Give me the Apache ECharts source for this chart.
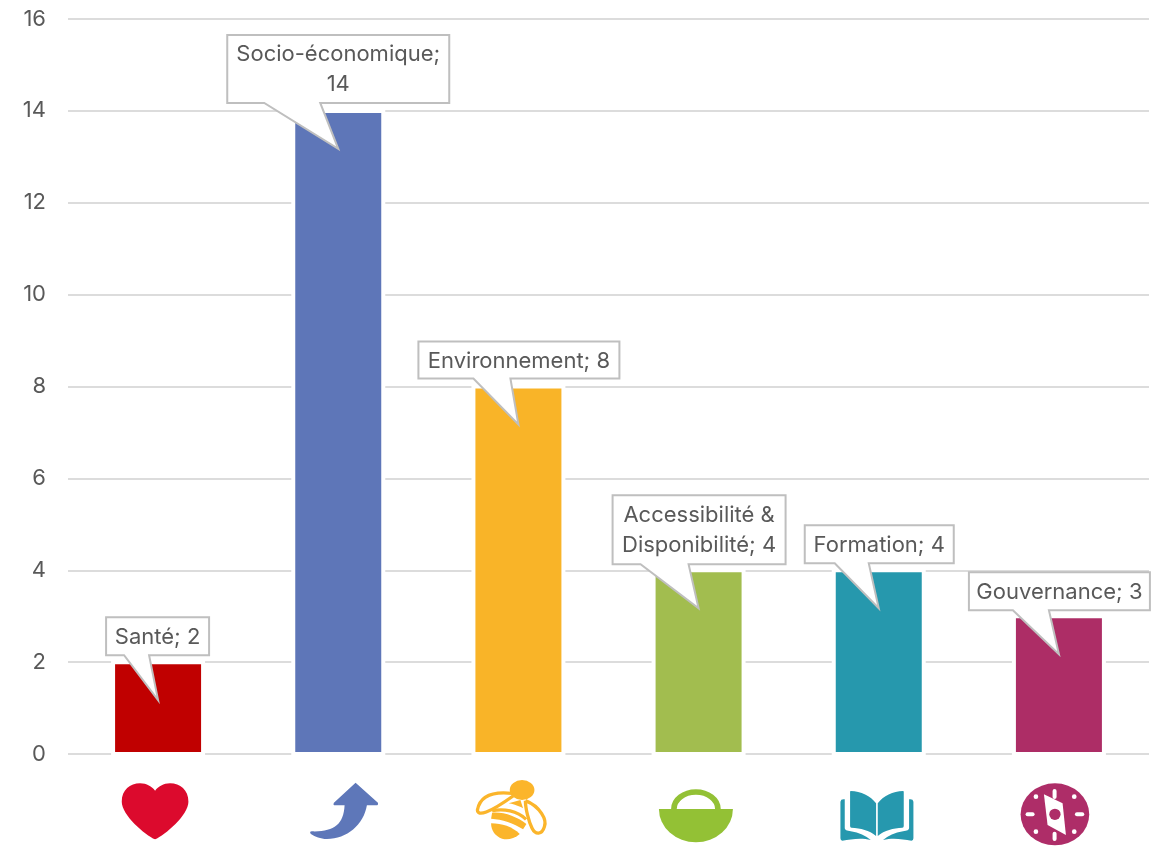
<!DOCTYPE html>
<html><head><meta charset="utf-8">
<style>html,body{margin:0;padding:0;background:#fff}#c{width:1168px;height:848px}</style>
<script src="https://cdn.jsdelivr.net/npm/echarts@6/dist/echarts.min.js"></script>
</head><body><div id="c"></div>
<script>
const categories = ['Santé','Socio-économique','Environnement','Accessibilité & Disponibilité','Formation','Gouvernance'];
const values = [2,14,8,4,4,3];
const labelTexts = ['Santé; 2','Socio-économique;\n14','Environnement; 8','Accessibilité &\nDisponibilité; 4','Formation; 4','Gouvernance; 3'];
const yTicks = {min:0,max:16,interval:2};

const palette = ['#C00000','#5E76B8','#F9B428','#A2BD4F','#2698AD','#AD2D66'];
// callout geometry, relative to the top centre of each bar: [left,right,top,bottom,baseLeft,baseRight]
const calloutBoxes = [
  [-52,51,-45,-7,-34,-9],[-111,111,-76,-8,-74,-18],[-100,101,-45,-8,-45,-8],
  [-86,87,-75,-6,-58,-10],[-74,75,-45,-7,-44,-10],[-90,91,-44,-6,-46,-10]
];
const tipDrop = 38;
const FONT = 'Inter, "Noto Sans", sans-serif';

const wrap = (inner, dx) => 'data:image/svg+xml;utf8,' + encodeURIComponent(
  `<svg xmlns="http://www.w3.org/2000/svg" width="270" height="264" viewBox="-135 0 270 264"><g transform="translate(${dx} 0)">${inner}</g></svg>`);
const icons = [
 wrap(`<path fill="#DC0A2D" d="M0 238C-30 225-100 165-100 125C-100 90-75 70-45 70C-25 70-10 80 0 92C10 80 25 70 45 70C75 70 100 90 100 125C100 165 30 225 0 238Z"/>`,-9),
 wrap(`<path fill="#5E77B9" d="M826 68L893 128Q895 136 888 136L860 136C850 195 800 237 740 237C720 237 705 230 692 222Q686 215 695 214C760 216 790 195 793 136L765 136Q757 136 761 128Z"/>`,-774),
 wrap(`<g fill="#FBB52B"><ellipse cx="1325" cy="90" rx="37" ry="30"/><path d="M1285 130L1320 120L1328 145C1310 135 1295 132 1285 130Z"/><path d="M1235 158C1270 155 1310 170 1338 192L1328 208C1300 190 1265 178 1232 176Z"/><path d="M1232 190C1265 190 1295 200 1318 222C1300 238 1280 240 1265 236C1245 230 1232 212 1232 190Z"/></g><g fill="none" stroke="#FBB52B" stroke-width="10"><path d="M1295 100C1250 95 1200 100 1191 150C1192 170 1225 160 1298 108"/><path d="M1335 122C1380 140 1400 180 1392 200C1385 225 1365 225 1355 205C1345 185 1335 145 1335 122"/><path d="M1235 152C1270 145 1310 152 1337 178"/></g>`,-1314),
 wrap(`<path fill="#93C135" d="M115 147L337 147A111 100 0 0 1 115 147Z"/><path fill="none" stroke="#93C135" stroke-width="17" d="M160 147A66 51 0 0 1 292 147"/>`,-234),
 wrap(`<g fill="#2698AE" id="h"><path d="M690 93C720 93 750 108 766 130L766 228C745 210 720 205 692 203Q688 203 688 198L688 96Q688 93 690 93Z"/><path d="M668 118L672 118L672 205Q672 212 690 214C715 218 735 228 750 240C720 232 690 238 665 242Q659 242 659 235L659 125Q660 118 668 118Z"/></g><use href="#h" transform="translate(1537 0) scale(-1 1)"/>`,-774),
 wrap(`<ellipse cx="1305" cy="163" rx="103" ry="93" fill="#AE2D68"/><g fill="#fff"><rect x="1298" y="87" width="12" height="30" rx="6"/><rect x="1298" y="215" width="12" height="28" rx="6"/><rect x="1217" y="157" width="27" height="12" rx="6"/><rect x="1365" y="157" width="28" height="12" rx="6"/><circle cx="1248" cy="110" r="7"/><circle cx="1363" cy="110" r="7"/><circle cx="1248" cy="215" r="7"/><circle cx="1363" cy="215" r="7"/><path d="M1272 103L1328 130L1338 225L1283 195Z"/></g><circle cx="1305" cy="163" r="17" fill="#AE2D68"/>`,-1317)
];

const chart = echarts.init(document.getElementById('c'), null, {renderer:'canvas'});
chart.setOption({
  animation:false,
  backgroundColor:'#fff',
  grid:{left:68,right:19,top:19,bottom:94},
  xAxis:{type:'category',data:categories,axisLine:{show:false},axisTick:{show:false},axisLabel:{show:false}},
  yAxis:{type:'value',min:yTicks.min,max:yTicks.max,interval:yTicks.interval,
    axisLine:{show:false},axisTick:{show:false},
    axisLabel:{margin:22,fontSize:22,color:'#595959',fontFamily:FONT},
    splitLine:{show:true,lineStyle:{color:'#DCDCDC',width:2}}},
  series:[
    {type:'custom',z:1,clip:false,silent:true,data:values.map((v,i)=>[i,v]),
     encode:{x:0,y:1},
     renderItem(params,api){
       const p=api.coord([api.value(0),api.value(1)]), b=api.coord([api.value(0),0]);
       return {type:'rect',shape:{x:p[0]-47,y:p[1]-2,width:94,height:b[1]-p[1]+4},style:{fill:'#fff'}};
     }},
    {type:'bar',barWidth:90,z:2,
     itemStyle:{borderColor:'#fff',borderWidth:2},
     data:values.map((v,i)=>({value:v,itemStyle:{color:palette[i]}}))},
    {type:'custom',z:5,clip:false,silent:true,data:values.map((v,i)=>[i,v]),
     encode:{x:0,y:1},
     renderItem(params,api){
       const i=api.value(0), p=api.coord([i,api.value(1)]);
       const [l,r,t,b,bl,br]=calloutBoxes[i], cx=p[0], ty=p[1];
       return {type:'group',children:[
         {type:'polygon',shape:{points:[[cx+l,ty+t],[cx+r,ty+t],[cx+r,ty+b],[cx+br,ty+b],[cx,ty+tipDrop],[cx+bl,ty+b],[cx+l,ty+b]]},
          style:{fill:'#fff',stroke:'#BFBFBF',lineWidth:2}},
         {type:'text',x:cx+(l+r)/2,y:ty+(t+b)/2+1,
          style:{text:labelTexts[i],fill:'#595959',fontSize:22,lineHeight:30,fontFamily:FONT,align:'center',verticalAlign:'middle'}}
       ]};
     }},
    {type:'custom',z:4,clip:false,silent:true,data:values.map((v,i)=>[i,0]),
     encode:{x:0,y:1},
     renderItem(params,api){
       const i=api.value(0), p=api.coord([i,0]);
       return {type:'image',style:{image:icons[i],x:p[0]-45,y:p[1]+6,width:90,height:88}};
     }}
  ]
});
</script></body></html>
